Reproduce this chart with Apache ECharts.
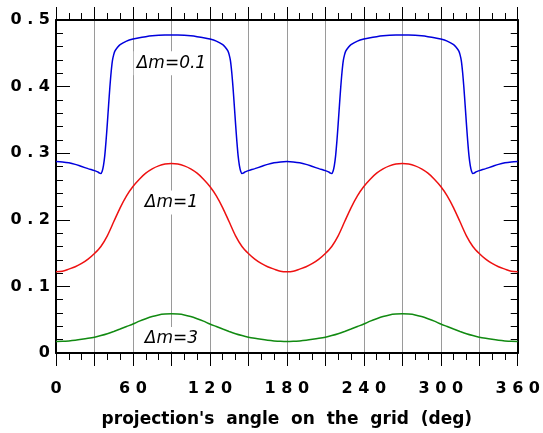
<!DOCTYPE html>
<html>
<head>
<meta charset="utf-8">
<script src="https://cdn.jsdelivr.net/npm/echarts@6/dist/echarts.min.js"></script>
<style>
  html, body { margin: 0; padding: 0; background: #fff; }
  #chart { width: 543px; height: 433px; }
</style>
</head>
<body>
<div id="chart"></div>
<script>
// half period (0..90 deg), curves are mirrored about 90 and repeat every 180
var blueAngles = [0, 5, 10, 15, 20, 25, 30, 32, 33, 34, 35, 36, 37, 38, 39, 40, 41, 42, 43, 44, 45, 46, 48, 50, 55, 60, 65, 70, 75, 80, 85, 90];
var blueHalf = [0.2875, 0.2868, 0.2855, 0.2832, 0.2800, 0.2768, 0.2738, 0.2724, 0.2714, 0.2700, 0.2697, 0.2730, 0.2815, 0.2960, 0.3180, 0.3440, 0.3720, 0.3990, 0.4220, 0.4390, 0.4480, 0.4535, 0.4590, 0.4630, 0.4682, 0.4714, 0.4735, 0.4750, 0.4762, 0.4770, 0.4774, 0.4775];

var stepAngles = [0, 5, 10, 15, 20, 25, 30, 35, 40, 45, 50, 55, 60, 65, 70, 75, 80, 85, 90];
var redHalf = [0.1220, 0.1228, 0.1260, 0.1295, 0.1345, 0.1410, 0.1495, 0.1600, 0.1760, 0.1970, 0.2180, 0.2360, 0.2500, 0.2610, 0.2700, 0.2765, 0.2810, 0.2837, 0.2845];
var greenHalf = [0.0172, 0.0175, 0.0182, 0.0192, 0.0205, 0.0220, 0.0238, 0.0262, 0.0290, 0.0324, 0.0360, 0.0398, 0.0435, 0.0478, 0.0515, 0.0548, 0.0572, 0.0584, 0.0588];

var seriesNames = ['Δm=0.1', 'Δm=1', 'Δm=3'];
var seriesColors = ['#0000dd', '#ee1111', '#118a11'];
// label anchor (angle, value) for each curve
var labelAngles = [90, 90, 90];
var labelValues = [0.435, 0.226, 0.021];

var xTicks = [0, 60, 120, 180, 240, 300, 360];

function buildFull(angles, values) {
  var pts = [];
  [0, 180].forEach(function (p) {
    var i;
    for (i = (p > 0 ? 1 : 0); i < angles.length; i++) {
      pts.push([p + angles[i], values[i]]);
    }
    for (i = angles.length - 2; i >= 0; i--) {
      pts.push([p + 180 - angles[i], values[i]]);
    }
  });
  return pts;
}

var curves = [
  buildFull(blueAngles, blueHalf),
  buildFull(stepAngles, redHalf),
  buildFull(stepAngles, greenHalf)
];

var boldFont = { fontFamily: 'DejaVu Sans', fontWeight: 'bold', fontSize: 16, color: '#000' };

function spaced(s) {
  return s.split('').join(' ');
}

var xBase = {
  type: 'value', min: 0, max: 360, interval: 30,
  axisLine: { show: true, onZero: false, lineStyle: { color: '#000', width: 2 } },
  axisTick: { show: true, inside: false, length: 13, lineStyle: { color: '#000', width: 1 } },
  minorTick: { show: true, splitNumber: 3, length: 7, lineStyle: { color: '#000', width: 1 } }
};

var yBase = {
  type: 'value', min: 0, max: 0.5, interval: 0.1,
  axisLine: { show: true, onZero: false, lineStyle: { color: '#000', width: 2 } },
  axisTick: { show: true, inside: true, length: 14, lineStyle: { color: '#000', width: 1 } },
  minorTick: { show: true, splitNumber: 5, length: 7, lineStyle: { color: '#000', width: 1 } },
  splitLine: { show: false }
};

var option = {
  animation: false,
  backgroundColor: '#fff',
  grid: { left: 56, right: 19, top: 20, bottom: 78 }
};

option.xAxis = [
  Object.assign({}, xBase, {
    position: 'bottom',
    name: 'projection\'s  angle  on  the  grid  (deg)',
    nameLocation: 'middle',
    nameGap: 58,
    nameTextStyle: Object.assign({}, boldFont, { fontSize: 17 }),
    splitLine: { show: true, lineStyle: { color: '#9a9a9a', width: 1 } },
    axisLabel: Object.assign({}, boldFont, {
      margin: 28,
      formatter: function (v) {
        return xTicks.indexOf(v) >= 0 ? spaced(String(v)) : '';
      }
    })
  }),
  Object.assign({}, xBase, {
    position: 'top',
    splitLine: { show: false },
    axisLabel: { show: false }
  })
];

option.yAxis = [
  Object.assign({}, yBase, {
    position: 'left',
    axisLabel: Object.assign({}, boldFont, {
      margin: 6,
      formatter: function (v) {
        return v === 0 ? '0' : spaced(v.toFixed(1));
      }
    })
  }),
  Object.assign({}, yBase, {
    position: 'right',
    axisLabel: { show: false }
  })
];

option.series = curves.map(function (pts, i) {
  return {
    name: seriesNames[i],
    type: 'line',
    data: pts,
    smooth: 0.3,
    showSymbol: false,
    lineStyle: { color: seriesColors[i], width: 1.5 },
    markPoint: {
      symbol: 'rect',
      symbolSize: 0,
      data: [{ coord: [labelAngles[i], labelValues[i]] }],
      label: {
        show: true,
        position: 'inside',
        formatter: seriesNames[i],
        fontFamily: 'DejaVu Sans',
        fontStyle: 'italic',
        fontSize: 17,
        color: '#000',
        backgroundColor: '#fff',
        padding: [5, 3, 2, 3]
      }
    }
  };
});

var myChart = echarts.init(document.getElementById('chart'));
myChart.setOption(option);
</script>
</body>
</html>
